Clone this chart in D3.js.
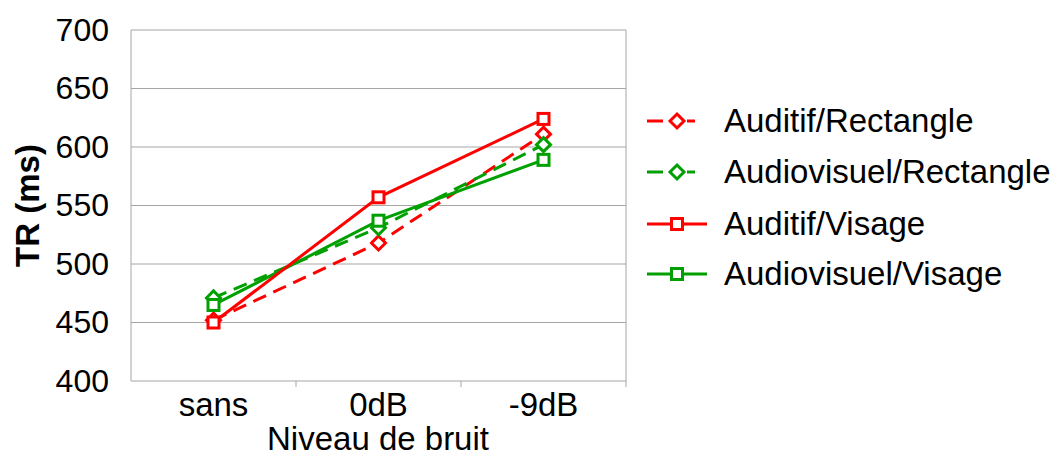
<!DOCTYPE html>
<html><head><meta charset="utf-8">
<script src="https://cdn.jsdelivr.net/npm/d3@7"></script>
<style>body{margin:0;background:#fff}svg{display:block;font-family:"Liberation Sans",Arial,sans-serif}</style>
</head><body><svg id="c" width="1055" height="458"></svg>
<script>
const categories = ["sans", "0dB", "-9dB"];
const yTicks = [400, 450, 500, 550, 600, 650, 700];
const seriesNames = ["Auditif/Rectangle", "Audiovisuel/Rectangle", "Auditif/Visage", "Audiovisuel/Visage"];
const auditifRectangle = [452, 518, 611];
const audiovisuelRectangle = [471, 531, 602];
const auditifVisage = [450, 557, 624];
const audiovisuelVisage = [465, 537, 589];
const xTitle = "Niveau de bruit";
const yTitle = "TR (ms)";

const RED = "#ff0000", GREEN = "#00a000";
const series = [
  {name: seriesNames[0], values: auditifRectangle, color: RED, dash: "14,8", marker: "diamond"},
  {name: seriesNames[1], values: audiovisuelRectangle, color: GREEN, dash: "14,8", marker: "diamond"},
  {name: seriesNames[2], values: auditifVisage, color: RED, dash: null, marker: "square"},
  {name: seriesNames[3], values: audiovisuelVisage, color: GREEN, dash: null, marker: "square"}
];
const drawOrder = [0, 1, 3, 2];

const L = 131, R = 626, T = 30, B = 381;
const svg = d3.select("#c");
const x = d3.scaleBand().domain(categories).range([L, R]);
const y = d3.scaleLinear().domain([400, 700]).range([B, T]);
const GRID = "#a6a6a6";

svg.append("g").selectAll("line").data(yTicks.filter(t => t > 400)).join("line")
  .attr("x1", L).attr("x2", R).attr("y1", d => y(d)).attr("y2", d => y(d))
  .attr("stroke", GRID).attr("stroke-width", 1);
svg.append("line").attr("x1", R).attr("x2", R).attr("y1", T).attr("y2", B).attr("stroke", GRID);
svg.append("line").attr("x1", L).attr("x2", L).attr("y1", T).attr("y2", B).attr("stroke", GRID);
svg.append("line").attr("x1", L).attr("x2", R).attr("y1", B).attr("y2", B).attr("stroke", GRID);

const yAxis = svg.append("g").attr("transform", `translate(${L},0)`)
  .call(d3.axisLeft(y).tickValues(yTicks).tickSize(0).tickPadding(22));
yAxis.select(".domain").remove();
yAxis.selectAll("text").attr("font-size", 32).attr("fill", "#000")
  .attr("font-family", "Liberation Sans, Arial, sans-serif");

const xAxis = svg.append("g").attr("transform", `translate(0,${B})`)
  .call(d3.axisBottom(x).tickSize(0).tickPadding(12));
xAxis.select(".domain").remove();
xAxis.selectAll("text").attr("font-size", 33).attr("fill", "#000")
  .attr("font-family", "Liberation Sans, Arial, sans-serif");
svg.append("g").selectAll("line").data(categories.slice(1).concat(["__end"])).join("line")
  .attr("x1", d => d === "__end" ? R : x(d)).attr("x2", d => d === "__end" ? R : x(d))
  .attr("y1", B).attr("y2", B + 6).attr("stroke", GRID);

svg.append("text").attr("x", (L + R) / 2 - 0.5).attr("y", 450).attr("text-anchor", "middle")
  .attr("font-size", 33).text(xTitle);
svg.append("text").attr("transform", `translate(39,${(T + B) / 2 + 0}) rotate(-90)`)
  .attr("text-anchor", "middle").attr("font-size", 33).attr("font-weight", "bold").text(yTitle);

function drawMarker(g, type, cx, cy, color) {
  if (type === "diamond") {
    const s = 7;
    g.append("path").attr("d", `M${cx},${cy - s}L${cx + s},${cy}L${cx},${cy + s}L${cx - s},${cy}Z`)
      .attr("fill", "#fff").attr("stroke", color).attr("stroke-width", 3);
  } else {
    const s = 5.5;
    g.append("rect").attr("x", cx - s).attr("y", cy - s).attr("width", 2 * s).attr("height", 2 * s)
      .attr("fill", "#fff").attr("stroke", color).attr("stroke-width", 3);
  }
}

const line = d3.line().x((d, i) => x(categories[i]) + x.bandwidth() / 2).y(d => y(d));
drawOrder.forEach(k => {
  const s = series[k];
  const g = svg.append("g");
  g.append("path").attr("d", line(s.values)).attr("fill", "none").attr("stroke", s.color)
    .attr("stroke-width", 3).attr("stroke-dasharray", s.dash);
  s.values.forEach((v, i) => drawMarker(g, s.marker, x(categories[i]) + x.bandwidth() / 2, y(v), s.color));
});

const legY = [121, 172, 224, 274];
series.forEach((s, i) => {
  const g = svg.append("g");
  const cy = legY[i];
  g.append("line").attr("x1", 647).attr("x2", 707).attr("y1", cy).attr("y2", cy)
    .attr("stroke", s.color).attr("stroke-width", 3).attr("stroke-dasharray", s.dash ? "16,7,8,9,8" : null);
  drawMarker(g, s.marker, 677, cy, s.color);
  g.append("text").attr("x", 724).attr("y", cy + 11).attr("font-size", 33).text(s.name);
});
</script></body></html>
